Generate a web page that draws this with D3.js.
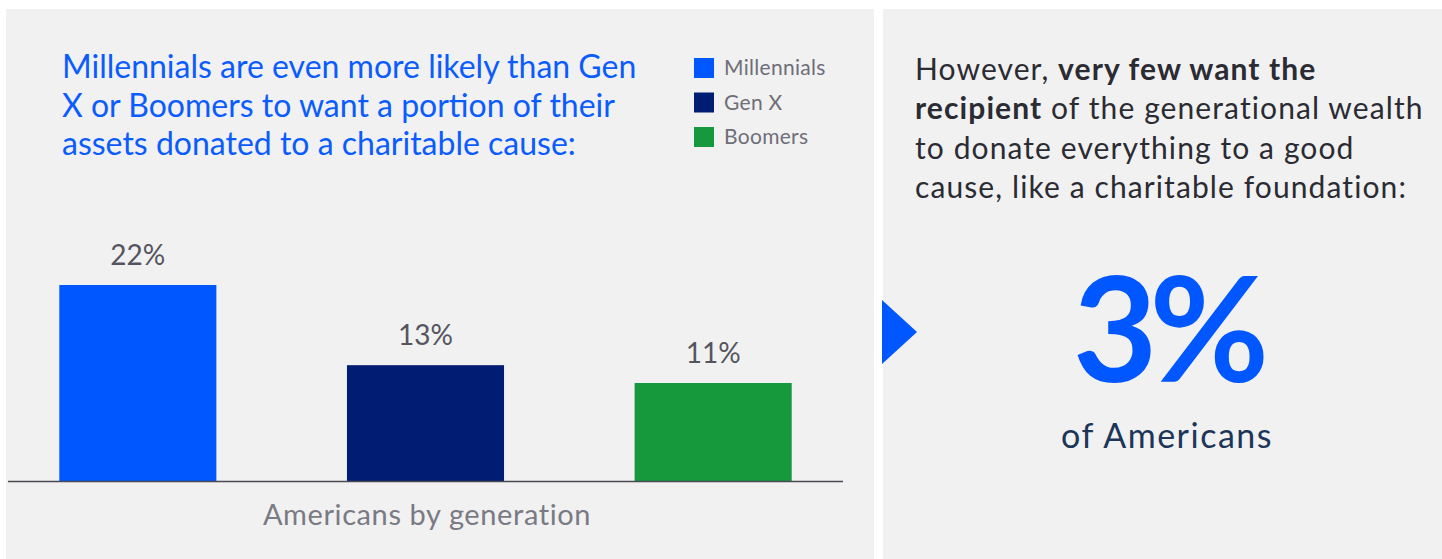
<!DOCTYPE html>
<html><head><meta charset="utf-8">
<script src="https://cdn.jsdelivr.net/npm/d3@7"></script>
<style>html,body{margin:0;padding:0;background:#fff;}svg{display:block;}</style>
</head><body>
<svg id="chart" width="1442" height="559"></svg>
<script>
const categories = ["Millennials", "Gen X", "Boomers"];
const values = [22, 13, 11];
const colors = ["#0057ff", "#001c73", "#16993c"];
const titleLines = ["Millennials are even more likely than Gen", "X or Boomers to want a portion of their", "assets donated to a charitable cause:"];
const axisLabel = "Americans by generation";
const rightLines = [
  [["However, ", false], ["very few want the", true]],
  [["recipient", true], [" of the generational wealth", false]],
  [["to donate everything to a good", false]],
  [["cause, like a charitable foundation:", false]]
];
const bigValue = "3%";
const bigCaption = "of Americans";

const svg = d3.select("#chart");
const bg = "#f1f1f1";
svg.append("rect").attr("x", 6).attr("y", 9).attr("width", 868).attr("height", 550).attr("fill", bg);
svg.append("rect").attr("x", 883).attr("y", 9).attr("width", 559).attr("height", 550).attr("fill", bg);

const font = "Lato, 'Open Sans', sans-serif";

// Title
const title = svg.append("text").attr("font-family", font).attr("font-size", 32).attr("fill", "#0a5cff");
titleLines.forEach((l, i) => {
  title.append("tspan").attr("x", 62).attr("y", 78 + i * 38.5).text(l);
});

// Legend
const leg = svg.append("g");
categories.forEach((c, i) => {
  const g = leg.append("g").attr("transform", `translate(694,${58 + i * 34.5})`);
  g.append("rect").attr("width", 20).attr("height", 20).attr("fill", colors[i]);
  g.append("text").attr("x", 30).attr("y", 17).attr("font-family", font).attr("font-size", 21).attr("letter-spacing", 0.3).attr("fill", "#6e6e78").text(c);
});

// Bars
const x = d3.scaleBand().domain(categories).range([-6, 857]).paddingInner(0.454).paddingOuter(0.227);
const y = d3.scaleLinear().domain([0, 22]).range([481, 285]);

svg.append("g").selectAll("rect").data(values).join("rect")
  .attr("x", (d, i) => x(categories[i]))
  .attr("y", d => y(d))
  .attr("width", x.bandwidth())
  .attr("height", d => y(0) - y(d))
  .attr("fill", (d, i) => colors[i]);

svg.append("g").selectAll("text").data(values).join("text")
  .attr("x", (d, i) => x(categories[i]) + x.bandwidth() / 2)
  .attr("y", d => y(d) - 20)
  .attr("text-anchor", "middle")
  .attr("font-family", font).attr("font-size", 28).attr("fill", "#55555f")
  .text(d => d + "%");

svg.append("line").attr("x1", 8).attr("x2", 843).attr("y1", y(0) + 0.5).attr("y2", y(0) + 0.5)
  .attr("stroke", "#4a4a52").attr("stroke-width", 1.5);

svg.append("text").attr("x", 427).attr("y", 525).attr("text-anchor", "middle")
  .attr("font-family", font).attr("font-size", 29).attr("letter-spacing", 0.6).attr("fill", "#7a7a84").text(axisLabel);

// Right panel
const rt = svg.append("text").attr("font-family", font).attr("font-size", 30).attr("letter-spacing", 1.1).attr("fill", "#2b2b33");
rightLines.forEach((parts, i) => {
  parts.forEach((p, j) => {
    const ts = rt.append("tspan").attr("font-weight", p[1] ? 700 : 400).text(p[0]);
    if (j === 0) ts.attr("x", 915).attr("y", 80 + i * 39.3);
  });
});

// Triangle
svg.append("path").attr("d", "M882,300 L917,332 L882,364 Z").attr("fill", "#0057ff");

svg.append("text").attr("x", 1167).attr("y", 382).attr("text-anchor", "middle")
  .attr("font-family", font).attr("font-weight", 700).attr("font-size", 146).attr("letter-spacing", -8).attr("fill", "#0057ff").text(bigValue);
svg.append("text").attr("x", 1167).attr("y", 448).attr("text-anchor", "middle")
  .attr("font-family", font).attr("font-size", 34).attr("letter-spacing", 1.5).attr("fill", "#1b3658").text(bigCaption);
</script>
</body></html>
